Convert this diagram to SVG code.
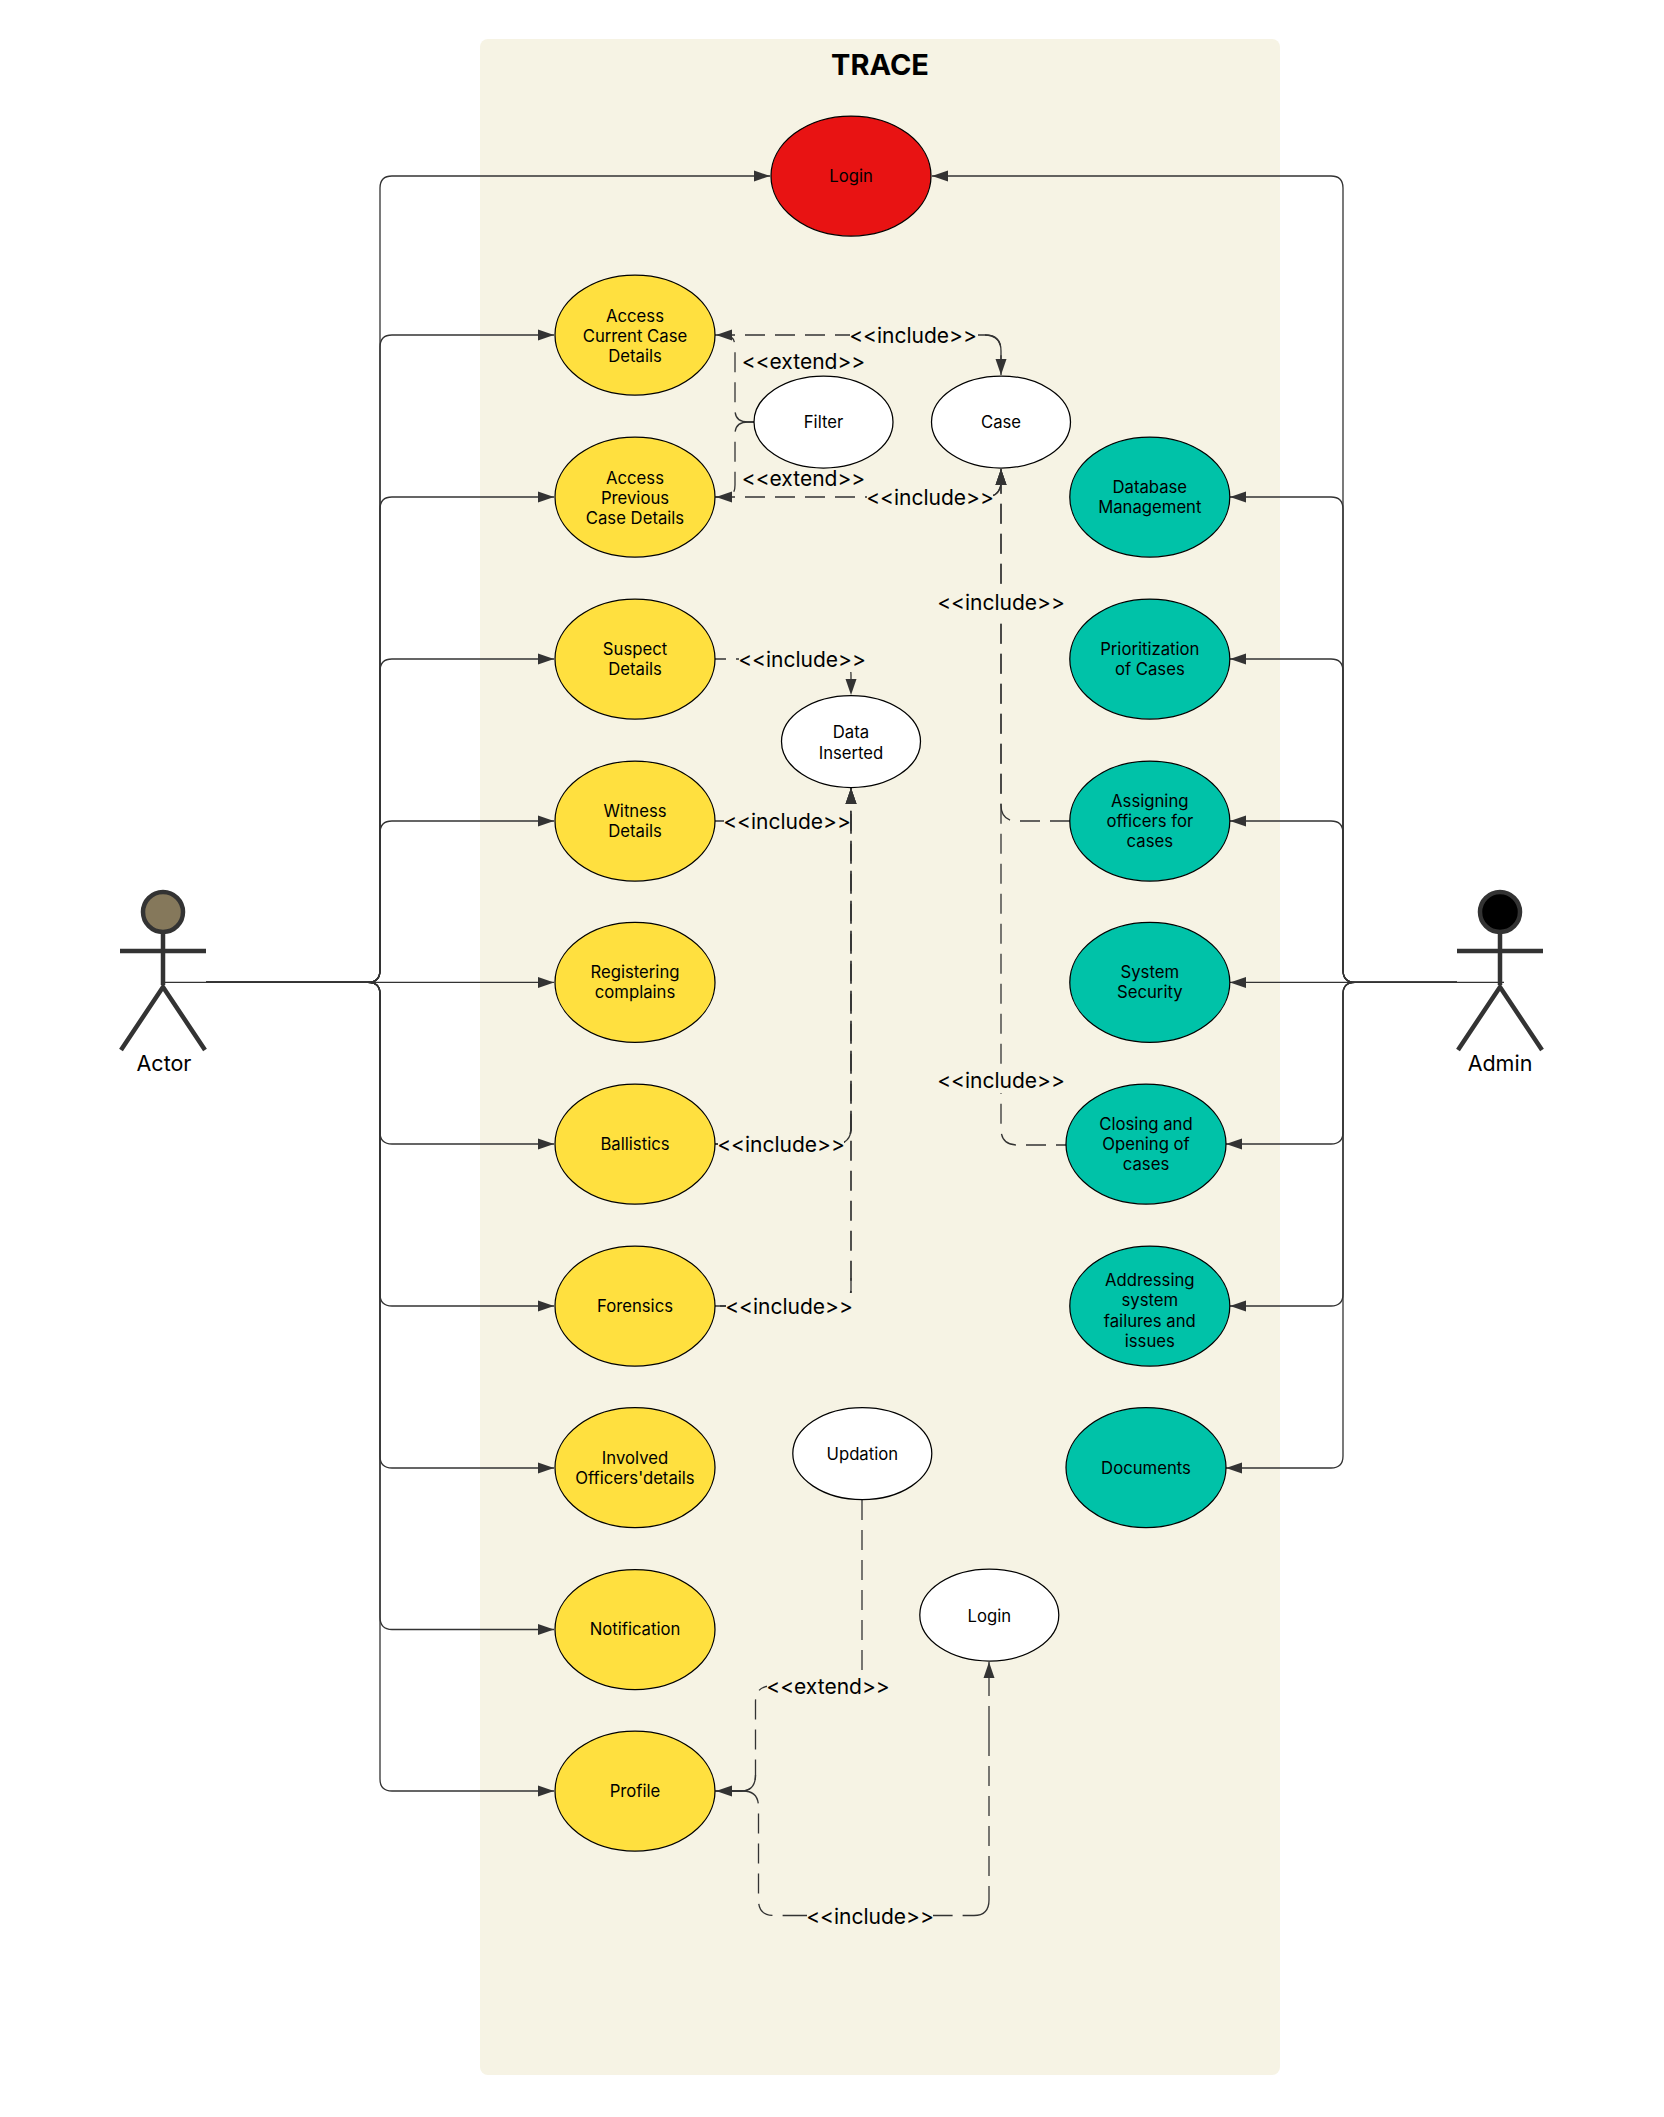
<svg xmlns="http://www.w3.org/2000/svg" width="1664" height="2117" viewBox="0 0 1664 2117">
<defs>
<style>
text{font-family:Inter,"Liberation Sans",sans-serif;fill:#000;text-anchor:middle}
.n{font-size:16.7px}
.l{font-size:21px}
.a{font-size:21.500px}
.c{fill:none;stroke:#333;stroke-width:1.3;marker-end:url(#arr)}
.p{fill:none;stroke:#333;stroke-width:1.3}
.d{stroke-dasharray:20 10}
.h{stroke-width:1.7}
.e{stroke:#000;stroke-width:1.25}
.y{fill:#FFE03F}.t{fill:#00C2A8}.w{fill:#fff}.r{fill:#E81313}
.bg{fill:#F6F3E4}
.s{fill:none;stroke:#333;stroke-width:4.5}
</style>
<marker id="arr" markerUnits="userSpaceOnUse" viewBox="0 0 17 12" markerWidth="17" markerHeight="12" refX="16" refY="6" orient="auto"><path d="M0 .5L16 6L0 11.5Z" fill="#333"/></marker>
</defs>
<rect width="1664" height="2117" fill="#fff"/>
<g id="panel"><rect x="480" y="39" width="800" height="2036" rx="8" class="bg"/><text x="880" y="75" style="font-size:29px;font-weight:700">TRACE</text></g>
<g id="connectors">
<path class="p" d="M163 982.400H206"/>
<path class="p" d="M1457 982.400H1504"/>
<path class="c" d="M206 982.400H368Q380 982.400 380 970V188Q380 176 392 176H770"/>
<path class="c" d="M206 982.400H368Q380 982.400 380 970V347Q380 335 392 335H554"/>
<path class="c" d="M206 982.400H368Q380 982.400 380 970V509Q380 497 392 497H554"/>
<path class="c" d="M206 982.400H368Q380 982.400 380 970V671Q380 659 392 659H554"/>
<path class="c" d="M206 982.400H368Q380 982.400 380 970V833Q380 821 392 821H554"/>
<path class="c" d="M206 982.400H554"/>
<path class="c" d="M206 982.400H368Q380 982.400 380 994V1132Q380 1144 392 1144H554"/>
<path class="c" d="M206 982.400H368Q380 982.400 380 994V1294Q380 1306 392 1306H554"/>
<path class="c" d="M206 982.400H368Q380 982.400 380 994V1456Q380 1468 392 1468H554"/>
<path class="c" d="M206 982.400H368Q380 982.400 380 994V1617Q380 1629.500 392 1629.500H554"/>
<path class="c" d="M206 982.400H368Q380 982.400 380 994V1779Q380 1791 392 1791H554"/>
<path class="c" d="M1457 982.400H1355Q1343 982.400 1343 970V188Q1343 176 1331 176H932"/>
<path class="c" d="M1457 982.400H1355Q1343 982.400 1343 970V509Q1343 497 1331 497H1230"/>
<path class="c" d="M1457 982.400H1355Q1343 982.400 1343 970V671Q1343 659 1331 659H1230"/>
<path class="c" d="M1457 982.400H1355Q1343 982.400 1343 970V833Q1343 821 1331 821H1230"/>
<path class="c" d="M1457 982.400H1230"/>
<path class="c" d="M1457 982.400H1355Q1343 982.400 1343 994V1132Q1343 1144 1331 1144H1226"/>
<path class="c" d="M1457 982.400H1355Q1343 982.400 1343 994V1294Q1343 1306 1331 1306H1230"/>
<path class="c" d="M1457 982.400H1355Q1343 982.400 1343 994V1456Q1343 1468 1331 1468H1226"/>
<path class="c" style="stroke-dasharray:24 10 20 10 20 10 20 10 20 10" d="M754 422H748Q735 422 735 410V348Q735 335 725 335H716"/>
<path class="c" style="stroke-dasharray:24 10 20 10 20 10 20 10 20 10" d="M754 422H748Q735 422 735 434V485Q735 497 725 497H716"/>
<path class="c d" d="M715 335H985Q1001 335 1001 351V375"/>
<path class="p" d="M978 335H985Q1001 335 1001 351V365"/>
<path class="c d" d="M715 497H985Q1001 497 1001 481V469"/>
<path class="p" d="M985 497Q1001 497 1001 481V469"/>
<path class="c d" d="M1070 821H1017Q1001 821 1001 805V469"/>
<path class="c d" style="stroke-dashoffset:10" d="M1066 1145H1017Q1001 1145 1001 1129V469"/>
<path class="c d" style="stroke-dashoffset:9" d="M715 659H835Q851 659 851 675V695"/>
<path class="c d h" d="M715 821H835Q851 821 851 805V788"/>
<path class="c d h" style="stroke-dashoffset:10" d="M715 1144H835Q851 1144 851 1128V788"/>
<path class="c d h" style="stroke-dashoffset:25" d="M715 1306H835Q851 1306 851 1290V788"/>
<path class="p" d="M715 1144H722M715 1306H728M835 1144Q851 1144 851 1128V1116M835 1306Q851 1306 851 1290V1278"/>
<path class="c d" d="M862 1500V1686H771Q755.500 1686 755.500 1702V1775Q755.500 1791 741 1791H716"/>
<path class="p" d="M755.500 1775Q755.500 1791 741 1791H730"/>
<path class="c" style="stroke-dasharray:50 10 20 10 20 10 20 10 20 10" d="M715 1791H743Q758.500 1791 758.500 1807V1900Q758.500 1915.500 774 1915.500H974Q989 1915.500 989 1900V1662"/>
<rect class="bg" x="850" y="322" width="126" height="26"/><text class="l" x="913" y="343">&lt;&lt;include&gt;&gt;</text>
<text class="l" x="803.500" y="369">&lt;&lt;extend&gt;&gt;</text>
<text class="l" x="803.500" y="486">&lt;&lt;extend&gt;&gt;</text>
<rect class="bg" x="867" y="484" width="126" height="26"/><text class="l" x="930" y="505">&lt;&lt;include&gt;&gt;</text>
<rect class="bg" x="938" y="589" width="126" height="26"/><text class="l" x="1001" y="610">&lt;&lt;include&gt;&gt;</text>
<rect class="bg" x="938" y="1067" width="126" height="26"/><text class="l" x="1001" y="1088">&lt;&lt;include&gt;&gt;</text>
<rect class="bg" x="739" y="646" width="126" height="26"/><text class="l" x="802" y="667">&lt;&lt;include&gt;&gt;</text>
<rect class="bg" x="724" y="808" width="126" height="26"/><text class="l" x="787" y="829">&lt;&lt;include&gt;&gt;</text>
<rect class="bg" x="718" y="1131" width="126" height="26"/><text class="l" x="781" y="1152">&lt;&lt;include&gt;&gt;</text>
<rect class="bg" x="726" y="1293" width="126" height="26"/><text class="l" x="789" y="1314">&lt;&lt;include&gt;&gt;</text>
<rect class="bg" x="767" y="1673" width="122" height="26"/><text class="l" x="828" y="1694">&lt;&lt;extend&gt;&gt;</text>
<rect class="bg" x="807" y="1903" width="126" height="26"/><text class="l" x="870" y="1924">&lt;&lt;include&gt;&gt;</text>
</g>
<g id="actor-left"><circle cx="163" cy="912" r="20" class="s" style="fill:#85785B"/><path class="s" d="M163 932V985M120 951H206M121 1050L163 987L205 1050"/><text class="a" x="164" y="1071">Actor</text></g>
<g id="actor-right"><circle cx="1500" cy="912" r="20" class="s" style="fill:#000"/><path class="s" d="M1500 932V985M1457 951H1543M1458 1050L1500 987L1542 1050"/><text class="a" x="1500" y="1071">Admin</text></g>
<g id="login-main"><ellipse class="e r" cx="851" cy="176" rx="80" ry="60"/><text class="n" x="851" y="182">Login</text></g>
<g id="access-current"><ellipse class="e y" cx="635" cy="335" rx="80" ry="60"/><text class="n" x="635" y="322">Access</text><text class="n" x="635" y="342">Current Case</text><text class="n" x="635" y="362">Details</text></g>
<g id="access-previous"><ellipse class="e y" cx="635" cy="497" rx="80" ry="60"/><text class="n" x="635" y="484">Access</text><text class="n" x="635" y="504">Previous</text><text class="n" x="635" y="524">Case Details</text></g>
<g id="suspect"><ellipse class="e y" cx="635" cy="659" rx="80" ry="60"/><text class="n" x="635" y="655">Suspect</text><text class="n" x="635" y="675">Details</text></g>
<g id="witness"><ellipse class="e y" cx="635" cy="821" rx="80" ry="60"/><text class="n" x="635" y="817">Witness</text><text class="n" x="635" y="837">Details</text></g>
<g id="registering"><ellipse class="e y" cx="635" cy="982.400" rx="80" ry="60"/><text class="n" x="635" y="978">Registering</text><text class="n" x="635" y="998">complains</text></g>
<g id="ballistics"><ellipse class="e y" cx="635" cy="1144" rx="80" ry="60"/><text class="n" x="635" y="1150">Ballistics</text></g>
<g id="forensics"><ellipse class="e y" cx="635" cy="1306" rx="80" ry="60"/><text class="n" x="635" y="1312">Forensics</text></g>
<g id="involved"><ellipse class="e y" cx="635" cy="1467.600" rx="80" ry="60"/><text class="n" x="635" y="1464">Involved</text><text class="n" x="635" y="1484">Officers'details</text></g>
<g id="notification"><ellipse class="e y" cx="635" cy="1629.500" rx="80" ry="60"/><text class="n" x="635" y="1635">Notification</text></g>
<g id="profile"><ellipse class="e y" cx="635" cy="1791" rx="80" ry="60"/><text class="n" x="635" y="1797">Profile</text></g>
<g id="filter"><ellipse class="e w" cx="823.500" cy="422" rx="69.500" ry="46"/><text class="n" x="823.500" y="428">Filter</text></g>
<g id="case"><ellipse class="e w" cx="1001" cy="422" rx="69.500" ry="46"/><text class="n" x="1001" y="428">Case</text></g>
<g id="data-inserted"><ellipse class="e w" cx="851" cy="741.500" rx="69.500" ry="46"/><text class="n" x="851" y="738">Data</text><text class="n" x="851" y="759">Inserted</text></g>
<g id="updation"><ellipse class="e w" cx="862.300" cy="1453.600" rx="69.500" ry="46"/><text class="n" x="862.300" y="1460">Updation</text></g>
<g id="login-sub"><ellipse class="e w" cx="989.300" cy="1615" rx="69.500" ry="46"/><text class="n" x="989.300" y="1622">Login</text></g>
<g id="database"><ellipse class="e t" cx="1149.800" cy="497" rx="80" ry="60"/><text class="n" x="1149.800" y="493">Database</text><text class="n" x="1149.800" y="513">Management</text></g>
<g id="prioritization"><ellipse class="e t" cx="1149.800" cy="659" rx="80" ry="60"/><text class="n" x="1149.800" y="655">Prioritization</text><text class="n" x="1149.800" y="675">of Cases</text></g>
<g id="assigning"><ellipse class="e t" cx="1149.800" cy="821" rx="80" ry="60"/><text class="n" x="1149.800" y="807">Assigning</text><text class="n" x="1149.800" y="827">officers for</text><text class="n" x="1149.800" y="847">cases</text></g>
<g id="security"><ellipse class="e t" cx="1149.800" cy="982.400" rx="80" ry="60"/><text class="n" x="1149.800" y="978">System</text><text class="n" x="1149.800" y="998">Security</text></g>
<g id="closing"><ellipse class="e t" cx="1146" cy="1144" rx="80" ry="60"/><text class="n" x="1146" y="1130">Closing and</text><text class="n" x="1146" y="1150">Opening of</text><text class="n" x="1146" y="1170">cases</text></g>
<g id="addressing"><ellipse class="e t" cx="1149.800" cy="1306" rx="80" ry="60"/><text class="n" x="1149.800" y="1286">Addressing</text><text class="n" x="1149.800" y="1306">system</text><text class="n" x="1149.800" y="1327">failures and</text><text class="n" x="1149.800" y="1347">issues</text></g>
<g id="documents"><ellipse class="e t" cx="1146" cy="1467.600" rx="80" ry="60"/><text class="n" x="1146" y="1474">Documents</text></g>
</svg>
